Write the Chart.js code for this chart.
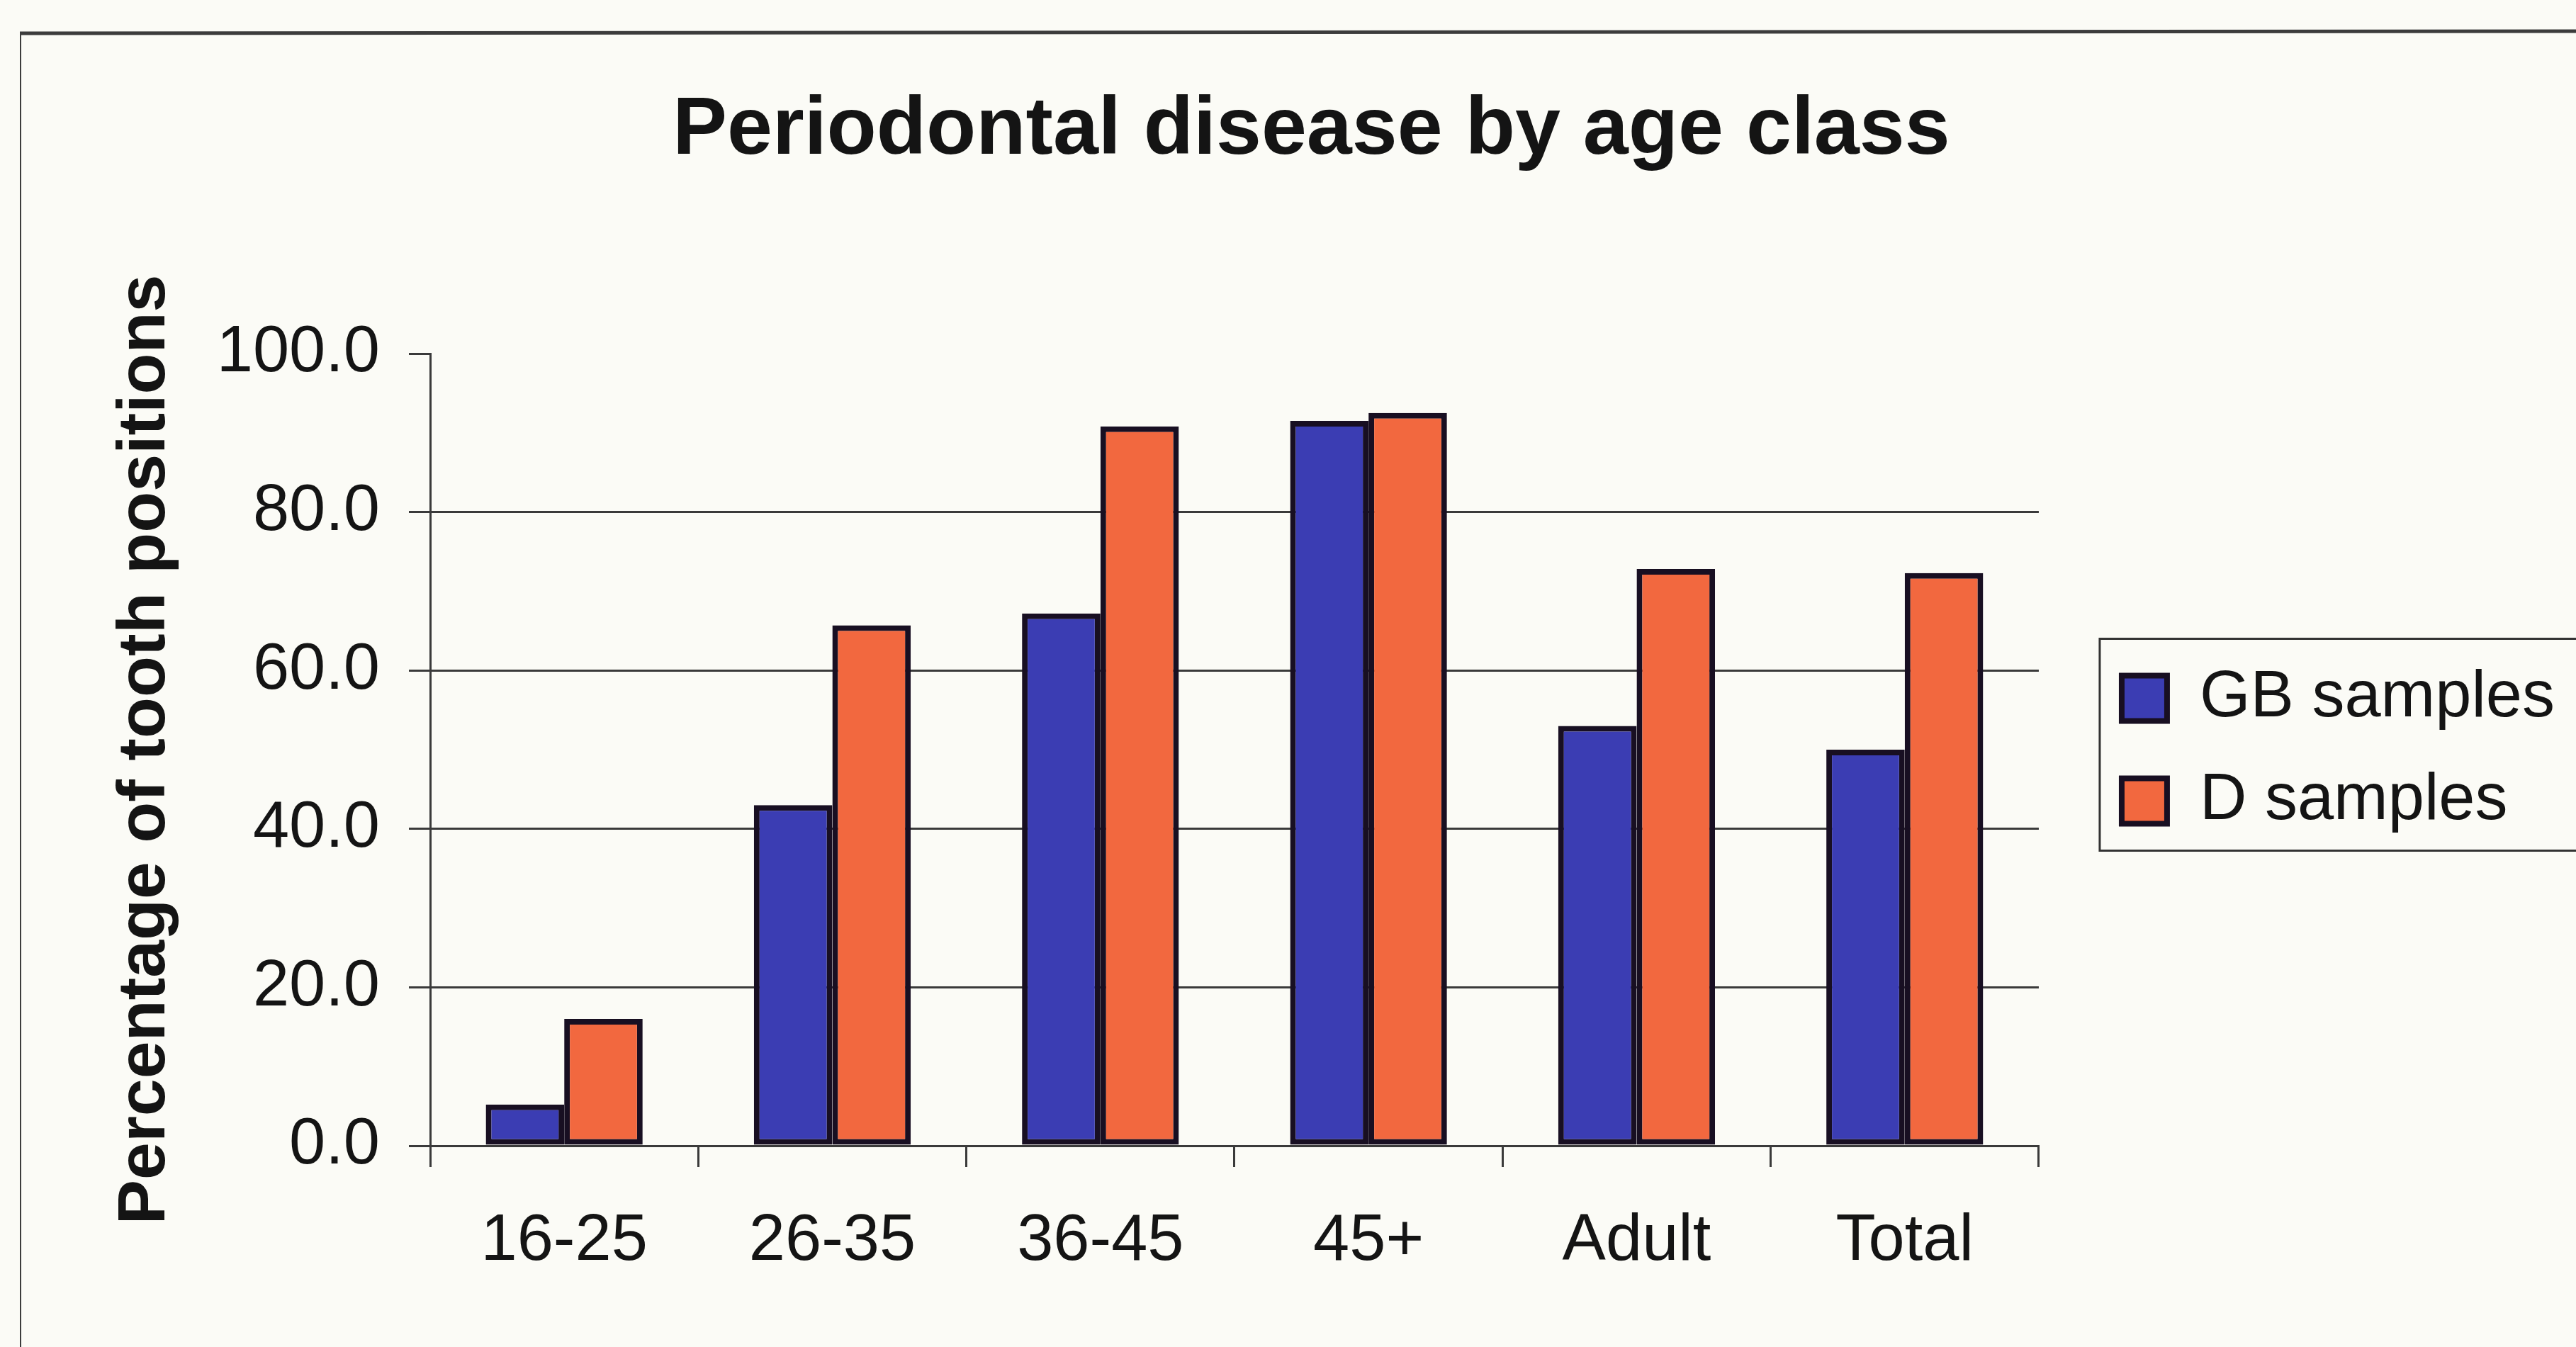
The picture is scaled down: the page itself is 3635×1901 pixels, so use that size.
<!DOCTYPE html>
<html>
<head>
<meta charset="utf-8">
<title>Periodontal disease by age class</title>
<script src="https://cdn.jsdelivr.net/npm/chart.js@4.4.1/dist/chart.umd.min.js"></script>
<style>
  html, body { margin: 0; padding: 0; background: #fbfbf6; overflow: hidden; }
  canvas { display: block; }
</style>
</head>
<body>
<canvas id="periodontalChart" width="3635" height="1901"></canvas>
<script>
const ageClasses = ['16-25', '26-35', '36-45', '45+', 'Adult', 'Total'];
const gbSamples = [5.2, 43.0, 67.2, 91.5, 53.0, 50.0];
const dSamples = [16.0, 65.7, 90.8, 92.5, 72.8, 72.3];
const yTicks = [0, 20, 40, 60, 80, 100];

const FONT = "'Liberation Sans', Arial, sans-serif";
const INK = '#141414';
const LINE = '#3a3a3a';

// page frame + box round the legend (Excel style)
const framePlugin = {
  id: 'frame',
  beforeDraw(chart) {
    const c = chart.ctx;
    c.save();
    c.fillStyle = '#fbfbf6';
    c.fillRect(0, 0, chart.width, chart.height);
    c.strokeStyle = '#3c3c3c';
    c.lineWidth = 5;
    c.beginPath();
    c.moveTo(28, 47);
    c.lineTo(chart.width, 44);
    c.stroke();
    c.lineWidth = 2;
    c.beginPath();
    c.moveTo(29, 46);
    c.lineTo(29, chart.height);
    c.stroke();
    c.restore();
  },
  afterDraw(chart) {
    const boxes = chart.legend.legendHitBoxes;
    if (!boxes || !boxes.length) return;
    const first = boxes[0];
    const last = boxes[boxes.length - 1];
    const top = first.top - 38;
    const bottom = last.top + last.height + 24;
    const c = chart.ctx;
    c.save();
    c.strokeStyle = '#333';
    c.lineWidth = 3;
    c.strokeRect(first.left - 31, top, chart.width, bottom - top);
    c.restore();
  }
};

const ctx = document.getElementById('periodontalChart').getContext('2d');
const periodontalChart = new Chart(ctx, {
  type: 'bar',
  data: {
    labels: ageClasses,
    datasets: [{
      label: 'GB samples',
      data: gbSamples,
      backgroundColor: '#3b3db3',
      borderColor: '#180f22',
      borderWidth: 8,
      borderSkipped: false
    }, {
      label: 'D samples',
      data: dSamples,
      backgroundColor: '#f2683f',
      borderColor: '#180f22',
      borderWidth: 8,
      borderSkipped: false
    }]
  },
  options: {
    responsive: false,
    animation: false,
    categoryPercentage: 0.585,
    barPercentage: 1.0,
    layout: {
      padding: { left: 86, right: 20, top: 0, bottom: 0 }
    },
    plugins: {
      title: {
        display: true,
        text: 'Periodontal disease by age class',
        color: INK,
        font: { family: FONT, size: 115, weight: 'bold' },
        padding: { top: 116, bottom: 245 }
      },
      legend: {
        position: 'right',
        align: 'center',
        fullSize: false,
        maxWidth: 720,
        labels: {
          color: INK,
          font: { family: FONT, size: 92 },
          boxWidth: 64,
          boxHeight: 64,
          padding: 53
        }
      },
      tooltip: { enabled: false }
    },
    scales: {
      x: {
        grid: {
          drawOnChartArea: false,
          drawTicks: true,
          tickLength: 30,
          color: LINE,
          lineWidth: 3
        },
        border: { display: true, color: LINE, width: 3 },
        ticks: {
          color: INK,
          font: { family: FONT, size: 92 },
          padding: 50,
          maxRotation: 0
        },
        afterFit: s => { s.height = 284; }
      },
      y: {
        min: yTicks[0],
        max: yTicks[yTicks.length - 1],
        ticks: {
          stepSize: yTicks[1] - yTicks[0],
          color: INK,
          font: { family: FONT, size: 92 },
          padding: 41,
          callback: v => v.toFixed(1)
        },
        grid: {
          color: c => (c.tick && c.tick.value === yTicks[yTicks.length - 1]) ? 'rgba(0,0,0,0)' : LINE,
          tickColor: LINE,
          lineWidth: 3,
          tickLength: 30
        },
        border: { display: true, color: LINE, width: 3 },
        title: {
          display: true,
          text: 'Percentage of tooth positions',
          color: INK,
          font: { family: FONT, size: 95, weight: 'bold' },
          padding: { top: 63, bottom: 0 }
        },
        afterFit: s => { s.width = 521; }
      },
      // empty spacer between plot and legend
      gap: {
        type: 'linear',
        position: 'right',
        min: 0,
        max: 100,
        grid: { display: false },
        border: { display: false },
        ticks: { display: false },
        afterFit: s => { s.width = 64; }
      }
    }
  },
  plugins: [framePlugin]
});
</script>
</body>
</html>
